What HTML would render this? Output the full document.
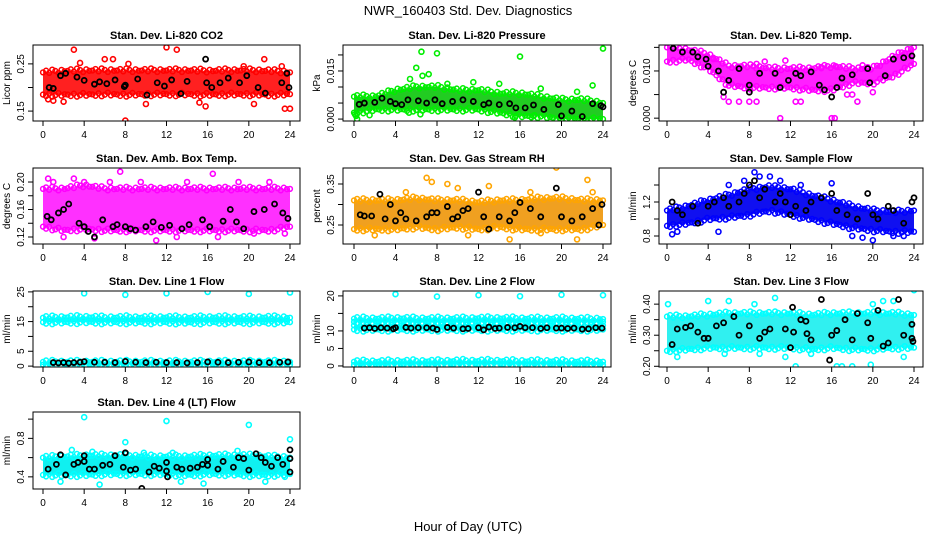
<!DOCTYPE html>
<html><head><meta charset="utf-8"><title>NWR_160403 Std. Dev. Diagnostics</title>
<style>
html,body{margin:0;padding:0;background:#fff;}
svg{display:block;font-family:"Liberation Sans",Arial,sans-serif;}
</style></head>
<body>
<svg id="chart" width="936" height="540" viewBox="0 0 936 540" xmlns="http://www.w3.org/2000/svg">
<rect x="0" y="0" width="936" height="540" fill="#fff"/>
<text x="468" y="15" text-anchor="middle" font-size="13">NWR_160403 Std. Dev. Diagnostics</text>
<text x="468" y="531" text-anchor="middle" font-size="13">Hour of Day (UTC)</text>
</svg>
<script>
const xTicks = [0,4,8,12,16,20,24];
const bandHours = [0,2,4,6,8,10,12,14,16,18,20,22,24];

// CO2
const co2Lo = [0.185,0.185,0.185,0.186,0.185,0.186,0.186,0.186,0.185,0.186,0.186,0.185,0.186];
const co2Hi = [0.232,0.235,0.236,0.236,0.236,0.236,0.236,0.236,0.235,0.236,0.236,0.235,0.232];
const co2Out = [[3,0.28],[12,0.285],[13,0.28],[8,0.13],[10,0.165],[6,0.26],[6.8,0.26],[21.5,0.26],[23.5,0.155],[24,0.155],[0.5,0.175],[15.8,0.16],[1,0.172],[2,0.17],[20.5,0.165],[15.2,0.168],[3.6,0.252],[8.3,0.25],[19.5,0.245],[23.2,0.245]];
const co2Black = [[0.6,0.2],[1,0.198],[1.7,0.225],[2.2,0.23],[3.3,0.222],[4,0.215],[5,0.207],[5.5,0.212],[6.2,0.208],[7,0.216],[7.9,0.202],[8,0.205],[9.2,0.218],[10.1,0.184],[11.1,0.21],[11.8,0.203],[12.5,0.216],[13.4,0.187],[14,0.213],[15.8,0.26],[15.9,0.21],[16.4,0.2],[17.2,0.21],[18,0.22],[19.1,0.21],[19.8,0.225],[20.9,0.2],[21.6,0.188],[23.2,0.21],[23.7,0.23],[23.9,0.2]];

// Pressure
const presLo = [0.002,0.003,0.003,0.003,0.003,0.003,0.003,0.002,0.001,0.001,0.000,0.000,0.000];
const presHi = [0.007,0.007,0.009,0.010,0.010,0.009,0.009,0.008,0.008,0.007,0.006,0.006,0.005];
const presOut = [[6.5,0.021],[8,0.0205],[16,0.0195],[24,0.022],[6,0.016],[0.2,0.001],[0.3,0],[0.1,0.0015],[6.6,0.0135],[7.2,0.014],[9,0.011],[5.4,0.0125],[11.5,0.0115],[14,0.011],[18,0.0095],[21.5,0.0085],[23,0.0105],[5.3,0.002],[6.4,0.0015],[15.5,0.0005],[17.3,0.001],[1.5,0.0012]];
const presBlack = [[0.5,0.0046],[1,0.005],[2,0.0052],[2.7,0.0065],[3.5,0.0055],[4,0.0048],[4.6,0.0045],[5.2,0.006],[6.2,0.0057],[7,0.005],[7.8,0.006],[8.5,0.0048],[9.5,0.0055],[10.5,0.006],[11.5,0.0055],[12.5,0.0045],[13,0.005],[14,0.0045],[15,0.0048],[15.6,0.0035],[16.5,0.0035],[17.3,0.0044],[18.3,0.003],[19.7,0.0045],[20,0.001],[21,0.0025],[22,0.0008],[23,0.0048],[23.8,0.0042],[24,0.0038]];

// Li-820 Temp
const tempLo = [0.012,0.0125,0.0105,0.007,0.0065,0.0065,0.0065,0.006,0.006,0.0075,0.0075,0.009,0.0115];
const tempHi = [0.015,0.0145,0.0135,0.011,0.011,0.0105,0.0105,0.0105,0.011,0.0105,0.0105,0.013,0.015];
const tempOut = [[11,0],[16,0],[16.3,0],[5.5,0.0045],[6,0.0035],[7,0.0035],[8,0.0035],[8.7,0.0035],[12.5,0.0035],[13,0.0035],[18.5,0.0035],[4.5,0.0125],[9.5,0.012],[11.5,0.0122],[8.7,0.0115],[15,0.0108],[16.4,0.011],[19,0.0112],[17.5,0.005],[18,0.005],[20,0.0055]];
const tempBlack = [[0.6,0.0148],[1.5,0.014],[2.5,0.014],[3,0.013],[3.8,0.0125],[4,0.011],[5,0.010],[5.5,0.0055],[6,0.008],[7,0.0105],[8,0.007],[8,0.0055],[9,0.0095],[10.5,0.0095],[11,0.0065],[11.8,0.008],[12.5,0.0095],[13,0.009],[14,0.0098],[14.8,0.007],[15.3,0.006],[16,0.0045],[16.5,0.0065],[17,0.0085],[18,0.0092],[19.5,0.0105],[19.7,0.0075],[21.2,0.009],[22,0.0125],[23,0.0128],[23.8,0.0132]];

// Amb Box Temp
const ambLo = [0.135,0.13,0.132,0.13,0.13,0.13,0.13,0.13,0.13,0.13,0.13,0.13,0.135];
const ambHi = [0.19,0.19,0.195,0.19,0.19,0.19,0.19,0.19,0.19,0.19,0.19,0.19,0.19];
const ambOut = [[7.5,0.215],[11,0.115],[16.5,0.212],[0.5,0.205],[3,0.205],[4,0.2],[5,0.118],[23.5,0.125],[1,0.2],[6.5,0.2],[9.5,0.2],[14,0.2],[19,0.2],[22,0.2],[2,0.12],[13,0.12],[17,0.12],[20.5,0.125]];
const ambBlack = [[0.4,0.15],[0.8,0.145],[1.5,0.155],[2,0.16],[2.5,0.168],[3.5,0.14],[4,0.135],[4.4,0.128],[5,0.12],[5.8,0.145],[6.8,0.135],[7.2,0.138],[8,0.135],[8.5,0.132],[9,0.13],[10,0.135],[10.7,0.142],[11.5,0.134],[12.3,0.137],[13.5,0.132],[14.2,0.138],[15.5,0.145],[16.2,0.135],[17.5,0.143],[18.2,0.16],[18.8,0.142],[19.5,0.132],[20.5,0.157],[21.5,0.16],[22.5,0.168],[23.3,0.155],[23.8,0.147]];

// Gas Stream RH
const rhLo = [0.24,0.24,0.24,0.245,0.24,0.245,0.24,0.245,0.24,0.24,0.24,0.24,0.25];
const rhHi = [0.31,0.31,0.31,0.315,0.31,0.31,0.305,0.31,0.31,0.315,0.315,0.31,0.31];
const rhOut = [[7,0.365],[7.5,0.355],[9,0.35],[19.5,0.39],[22.5,0.36],[15,0.215],[21.5,0.215],[10,0.34],[5,0.33],[13,0.345],[17,0.33],[23,0.33],[2,0.225],[11,0.225],[18,0.23]];
const rhBlack = [[0.6,0.275],[1,0.272],[1.7,0.272],[2.5,0.325],[3,0.265],[3.5,0.3],[4,0.26],[4.5,0.28],[5,0.265],[6,0.26],[7,0.27],[7.5,0.28],[8,0.28],[9,0.295],[9.5,0.265],[10,0.27],[10.5,0.285],[11,0.29],[12,0.33],[12.5,0.27],[13,0.24],[14,0.27],[15,0.26],[15.5,0.28],[16,0.305],[17,0.29],[18,0.27],[19.5,0.34],[20,0.27],[21,0.26],[22,0.27],[23,0.29],[23.6,0.25],[23.9,0.3]];

// Sample Flow
const sfLo = [0.92,0.95,1.0,1.02,1.05,1.1,1.05,1.0,0.95,0.9,0.87,0.85,0.85];
const sfHi = [1.1,1.15,1.22,1.28,1.35,1.38,1.35,1.28,1.22,1.15,1.1,1.08,1.1];
const sfOut = [[8.5,1.55],[10,1.5],[20,0.75],[19,0.78],[9,1.5],[11,1.45],[13,1.4],[16,1.42],[0.5,0.82],[1,0.85],[5,0.85],[18,0.8],[22,0.8],[23,0.8],[6,1.4],[7.5,1.45]];
const sfBlack = [[0.5,1.2],[1,1.1],[1.5,1.05],[2.5,1.15],[3,0.95],[4,1.15],[4.6,1.2],[5.5,1.25],[6,1.15],[7,1.2],[7.5,1.3],[8,1.4],[8.5,1.45],[9,1.25],[9.5,1.35],[10.5,1.2],[11,1.3],[11.5,1.2],[12,1.05],[12.5,1.15],[13.5,1.1],[14,1.2],[15,1.25],[16,1.3],[16.5,1.1],[17.5,1.05],[18.5,1.0],[19.5,1.3],[20,1.05],[20.5,1.0],[21.5,1.15],[22,1.1],[23,0.95],[23.8,1.2],[24,1.25]];

// Line 1 Flow
const l1LoA = [14.8,14.8,14.9,14.8,14.8,14.8,14.8,14.7,14.8,14.8,14.8,14.8,14.8];
const l1HiA = [16.3,16.4,16.5,16.3,16.4,16.3,16.4,16.3,16.4,16.4,16.3,16.4,16.3];
const l1LoB = [0.5,0.5,0.5,0.5,0.5,0.5,0.5,0.5,0.5,0.5,0.5,0.5,0.5];
const l1HiB = [1.4,1.4,1.4,1.4,1.4,1.4,1.4,1.4,1.4,1.4,1.4,1.4,1.4];
const l1Out = [[4,24.5],[8,24],[12,24.5],[16,25],[20,24.3],[24,24.8]];
const l1Black = [[1,1.2],[1.5,1.1],[2,1.2],[2.5,1.0],[3,1.2],[3.6,1.3],[4,1.5],[5,1.3],[6,1.3],[7,1.2],[8,1.6],[9,1.3],[10,1.2],[11,1.3],[12,1.2],[13,1.2],[14,1.1],[15,1.2],[16,1.4],[17,1.3],[18,1.2],[19,1.3],[20,1.4],[21,1.2],[22,1.2],[23,1.3],[23.8,1.4]];

// Line 2 Flow
const l2LoA = [12.6,12.6,12.7,12.6,12.6,12.6,12.7,12.6,12.6,12.6,12.6,12.6,12.6];
const l2HiA = [13.5,13.5,13.6,13.5,13.5,13.5,13.6,13.6,13.5,13.5,13.5,13.4,13.4];
const l2LoB = [10.4,10.4,10.4,10.4,10.4,10.4,10.4,10.4,10.4,10.4,10.4,10.4,10.4];
const l2HiB = [11.6,11.6,11.6,11.6,11.6,11.6,11.6,11.6,11.6,11.6,11.6,11.6,11.6];
const l2LoC = [0.3,0.3,0.4,0.4,0.4,0.5,0.5,0.5,0.4,0.4,0.4,0.3,0.3];
const l2HiC = [1.2,1.2,1.3,1.3,1.3,1.4,1.4,1.4,1.3,1.3,1.3,1.2,1.2];
const l2Out = [[4,20.5],[8,19.8],[12,20.2],[16,19.9],[20,20.3],[24,20.2]];
const l2Black = [[1,10.8],[1.5,10.9],[2,10.7],[2.6,10.9],[3.2,10.8],[3.8,10.6],[4,10.9],[5,11],[5.5,10.8],[6.2,10.9],[7,10.9],[7.6,10.8],[8,10.4],[9,11],[9.6,10.8],[10.5,10.6],[11,10.7],[12,10.9],[12.5,10.3],[13,11.1],[13.6,10.7],[14,10.8],[14.8,11],[15.5,10.9],[16,11.3],[16.5,10.9],[17.2,10.9],[18,10.7],[18.6,10.9],[19.5,10.8],[20,10.8],[20.6,10.7],[21.2,10.8],[22,10.5],[22.6,10.6],[23.3,10.9],[23.9,10.8]];

// Line 3 Flow
const l3Lo = [0.25,0.255,0.26,0.26,0.26,0.26,0.26,0.255,0.26,0.255,0.255,0.26,0.26];
const l3Hi = [0.36,0.36,0.365,0.37,0.37,0.37,0.37,0.365,0.37,0.37,0.37,0.37,0.365];
const l3Out = [[0.1,0.4],[1,0.23],[4,0.41],[6,0.41],[8.5,0.4],[10.5,0.42],[12.5,0.2],[16.5,0.2],[17,0.2],[18,0.2],[19.8,0.205],[20,0.4],[21,0.41],[22,0.41],[24,0.445],[5.6,0.24],[9,0.24],[11.5,0.23],[14,0.24],[23,0.23]];
const l3Black = [[0.5,0.27],[1,0.32],[1.8,0.325],[2.3,0.33],[3,0.31],[3.6,0.29],[4,0.29],[4.8,0.33],[5.5,0.34],[6.5,0.36],[7,0.30],[8,0.33],[9,0.29],[9.5,0.31],[10,0.32],[11.5,0.32],[12,0.26],[13,0.35],[13.5,0.345],[14,0.285],[12.2,0.39],[12.3,0.31],[13.6,0.305],[15,0.415],[16,0.30],[16.5,0.315],[17.3,0.35],[15.8,0.22],[18,0.285],[18.5,0.37],[19.5,0.34],[19.8,0.29],[20.5,0.38],[21,0.265],[21.5,0.275],[22.5,0.415],[23,0.3],[23.8,0.335],[23.8,0.29],[23.9,0.28]];

// Line 4 (LT) Flow
const l4Lo = [0.42,0.42,0.42,0.43,0.43,0.43,0.43,0.42,0.43,0.43,0.42,0.42,0.43];
const l4Hi = [0.6,0.61,0.62,0.62,0.62,0.61,0.61,0.61,0.62,0.62,0.62,0.61,0.6];
const l4Out = [[4,1.02],[12,0.98],[20,0.94],[24,0.79],[8,0.76],[1.7,0.35],[2.8,0.68],[4.8,0.66],[5.5,0.32],[9.8,0.65],[12.6,0.65],[13.4,0.35],[15.6,0.33],[18.9,0.67],[21.6,0.35],[23.5,0.4]];
const l4Black = [[0.5,0.48],[1.3,0.53],[1.7,0.63],[2.2,0.42],[3,0.53],[3.4,0.55],[4,0.62],[4,0.56],[4.5,0.48],[5,0.48],[5.8,0.52],[6.5,0.53],[7,0.62],[7.8,0.5],[8,0.65],[8.5,0.47],[9,0.48],[9.6,0.28],[10.3,0.45],[10.8,0.51],[11.3,0.49],[12,0.46],[12,0.55],[12.1,0.4],[13,0.5],[13.5,0.48],[14.3,0.49],[15,0.5],[15.5,0.53],[16,0.58],[16,0.52],[17,0.48],[17.5,0.56],[18.5,0.5],[19,0.6],[19.5,0.59],[20,0.47],[20.7,0.64],[21.2,0.6],[21.6,0.55],[22.2,0.51],[22.8,0.6],[23.3,0.53],[24,0.45],[24,0.68],[24,0.59]];

const NS = 'http://www.w3.org/2000/svg';
const svg = document.getElementById('chart');
function mk(tag, attrs, parent){const e=document.createElementNS(NS,tag);for(const k in attrs)e.setAttribute(k,attrs[k]);(parent||svg).appendChild(e);return e;}
function interp(h, lo){for(let i=0;i<bandHours.length-1;i++){if(h<=bandHours[i+1]){const t=(h-bandHours[i])/(bandHours[i+1]-bandHours[i]);return lo[i]+(lo[i+1]-lo[i])*t;}}return lo[lo.length-1];}

const colBox = [{l:33,r:300,x0:43,x24:290},{l:343,r:611,x0:354,x24:603},{l:659,r:923,x0:667,x24:914}];
const rowBox = [{t:45,b:121},{t:168,b:244},{t:291,b:367},{t:412,b:489}];
const jit = [0,2.5,-1.5,3.5,1,-2.5,2,-0.5];

const panels = [
 {name:'co2',title:'Stan. Dev. Li-820 CO2',ylab:'Licor ppm',c:0,r:0,yTop:0.29,yBot:0.129,ticks:[0.15,0.20,0.25],labels:['0.15','','0.25'],color:'#ff0000',fill:'#ff2020',bands:[[co2Lo,co2Hi]],out:co2Out,black:co2Black},
 {name:'pressure',title:'Stan. Dev. Li-820 Pressure',ylab:'kPa',c:1,r:0,yTop:0.0231,yBot:-0.0006,ticks:[0,0.005,0.01,0.015,0.02],labels:['0.000','','','0.015',''],color:'#00ee00',fill:'#22cc22',bands:[[presLo,presHi]],out:presOut,black:presBlack},
 {name:'li820-temp',title:'Stan. Dev. Li-820 Temp.',ylab:'degrees C',c:2,r:0,yTop:0.0155,yBot:-0.0006,ticks:[0,0.005,0.01,0.015],labels:['0.000','','0.010',''],color:'#ff00ff',fill:'#ff20ff',bands:[[tempLo,tempHi]],out:tempOut,black:tempBlack},
 {name:'amb-box-temp',title:'Stan. Dev. Amb. Box Temp.',ylab:'degrees C',c:0,r:1,yTop:0.2204,yBot:0.1098,ticks:[0.12,0.14,0.16,0.18,0.20],labels:['0.12','','0.16','','0.20'],color:'#ff00ff',fill:'#ff30ff',bands:[[ambLo,ambHi]],out:ambOut,black:ambBlack},
 {name:'gas-stream-rh',title:'Stan. Dev. Gas Stream RH',ylab:'percent',c:1,r:1,yTop:0.389,yBot:0.2037,ticks:[0.25,0.30,0.35],labels:['0.25','','0.35'],color:'#ffa500',fill:'#f0a020',bands:[[rhLo,rhHi]],out:rhOut,black:rhBlack},
 {name:'sample-flow',title:'Stan. Dev. Sample Flow',ylab:'ml/min',c:2,r:1,yTop:1.6,yBot:0.706,ticks:[0.8,1.0,1.2,1.4],labels:['0.8','','1.2',''],color:'#0000ff',fill:'#1010f0',bands:[[sfLo,sfHi]],out:sfOut,black:sfBlack},
 {name:'line1-flow',title:'Stan. Dev. Line 1 Flow',ylab:'ml/min',c:0,r:2,yTop:25.3,yBot:-0.3,ticks:[0,5,10,15,20,25],labels:['0','5','','15','','25'],color:'#00ffff',fill:'#10f0f0',bands:[[l1LoA,l1HiA],[l1LoB,l1HiB]],out:l1Out,black:l1Black},
 {name:'line2-flow',title:'Stan. Dev. Line 2 Flow',ylab:'ml/min',c:1,r:2,yTop:21.4,yBot:-0.3,ticks:[0,5,10,15,20],labels:['0','5','10','','20'],color:'#00ffff',fill:'#10f0f0',bands:[[l2LoA,l2HiA],[l2LoB,l2HiB],[l2LoC,l2HiC]],out:l2Out,black:l2Black},
 {name:'line3-flow',title:'Stan. Dev. Line 3 Flow',ylab:'ml/min',c:2,r:2,yTop:0.4423,yBot:0.1977,ticks:[0.20,0.25,0.30,0.35,0.40],labels:['0.20','','0.30','','0.40'],color:'#00ffff',fill:'#30f0f0',bands:[[l3Lo,l3Hi]],out:l3Out,black:l3Black},
 {name:'line4-flow',title:'Stan. Dev. Line 4 (LT) Flow',ylab:'ml/min',c:0,r:3,yTop:1.074,yBot:0.2737,ticks:[0.4,0.6,0.8,1.0],labels:['0.4','','0.8',''],color:'#00ffff',fill:'#10f0f0',bands:[[l4Lo,l4Hi]],out:l4Out,black:l4Black}
];

panels.forEach(p=>{
  const cb=colBox[p.c], rb=rowBox[p.r];
  const xs=h=>cb.x0+(cb.x24-cb.x0)*h/24;
  const ys=v=>rb.t+(p.yTop-v)/(p.yTop-p.yBot)*(rb.b-rb.t);
  const g=mk('g',{});
  
  
  const t=mk('text',{x:(cb.l+cb.r)/2,y:rb.t-6,'text-anchor':'middle','font-size':'11','font-weight':'bold'},g);
  t.textContent=p.title;
  
  
  const clipId='clip-'+p.name;
  const cp=mk('clipPath',{id:clipId},g);
  mk('rect',{x:cb.l,y:rb.t,width:cb.r-cb.l,height:rb.b-rb.t},cp);
  const plot=mk('g',{'clip-path':'url(#'+clipId+')'},g);
  
  
  p.bands.forEach(([lo,hi],bi)=>{
    let pts=[];
    bandHours.forEach((h,i)=>pts.push(xs(h)+','+ys(hi[i])));
    for(let i=bandHours.length-1;i>=0;i--)pts.push(xs(bandHours[i])+','+ys(lo[i]));
    const poly=mk('polygon',{points:pts.join(' '),fill:p.fill},plot);
    
    
    let n=0;
    for(let h=0;h<=24.001;h+=0.3){
      const k=jit[n%jit.length]; n++;
      const yl=ys(interp(h,lo))+k*0.6, yh=ys(interp(h,hi))-k*0.6;
      const c1=mk('circle',{cx:xs(h),cy:yl,r:2.4,fill:'none',stroke:p.color,'stroke-width':1.5},plot);
      
      
      const c2=mk('circle',{cx:xs(h),cy:yh,r:2.4,fill:'none',stroke:p.color,'stroke-width':1.5},plot);
      
      
    }
  });
  p.out.forEach(([h,v])=>{
    const c=mk('circle',{cx:xs(h),cy:ys(v),r:2.5,fill:'none',stroke:p.color,'stroke-width':1.6},plot);
    
    
  });
  p.black.forEach(([h,v])=>{
    const c=mk('circle',{cx:xs(h),cy:ys(v),r:2.5,fill:'none',stroke:'#000','stroke-width':1.8},plot);
    
    
  });
  const box=mk('rect',{x:cb.l,y:rb.t,width:cb.r-cb.l,height:rb.b-rb.t,fill:'none',stroke:'#000','stroke-width':1},g);
  
  
  const xa=mk('g',{},g);
  
  
  xTicks.forEach(h=>{
    mk('line',{x1:xs(h),x2:xs(h),y1:rb.b,y2:rb.b+5,stroke:'#000'},xa);
    const tl=mk('text',{x:xs(h),y:rb.b+17,'text-anchor':'middle','font-size':'10'},xa);
    tl.textContent=h;
    
    
  });
  const ya=mk('g',{},g);
  
  
  p.ticks.forEach((v,i)=>{
    const y=ys(v);
    mk('line',{x1:cb.l-5,x2:cb.l,y1:y,y2:y,stroke:'#000'},ya);
    if(p.labels[i]){
      const tl=mk('text',{x:cb.l-9,y:y,'text-anchor':'middle','font-size':'10',transform:'rotate(-90 '+(cb.l-9)+' '+y+')'},ya);
      tl.textContent=p.labels[i];
      
      
    }
  });
  const yc=(rb.t+rb.b)/2;
  const yt=mk('text',{x:cb.l-23,y:yc,'text-anchor':'middle','font-size':'10',transform:'rotate(-90 '+(cb.l-23)+' '+yc+')'},ya);
  yt.textContent=p.ylab;
  
  
});
</script>
</body></html>
